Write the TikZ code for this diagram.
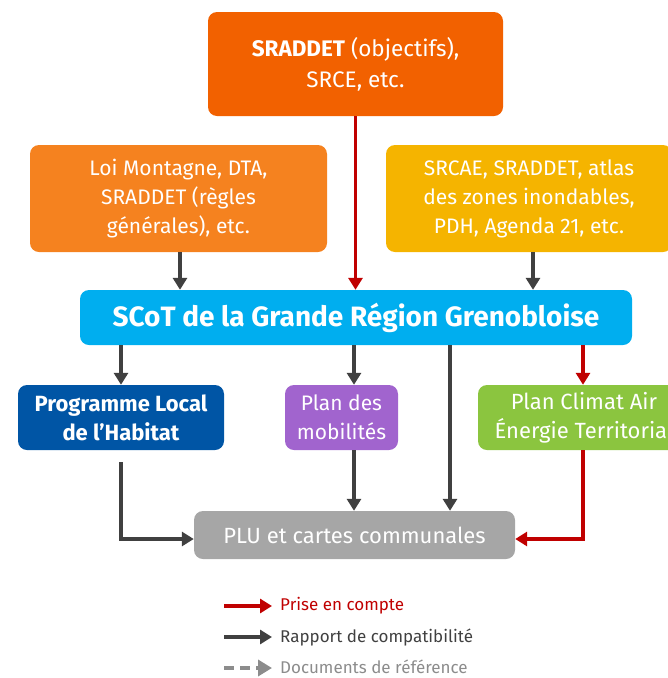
\documentclass[tikz,border=0pt]{standalone}
\usepackage{fontspec}
\setmainfont{Fira Sans}
\usetikzlibrary{arrows.meta}
\definecolor{cTop}{RGB}{242,97,0}
\definecolor{cLeft}{RGB}{245,130,31}
\definecolor{cRight}{RGB}{245,180,0}
\definecolor{cScot}{RGB}{0,174,239}
\definecolor{cPlh}{RGB}{0,85,165}
\definecolor{cMob}{RGB}{161,100,206}
\definecolor{cClim}{RGB}{139,197,63}
\definecolor{cPlu}{RGB}{166,166,166}
\definecolor{cRed}{RGB}{192,0,0}
\definecolor{cDark}{RGB}{64,64,64}
\definecolor{cGrey}{RGB}{140,140,140}
\begin{document}
\begin{tikzpicture}[x=1pt,y=-1pt,
  box/.style={rounded corners=9pt, text=white, align=center, inner sep=0pt, font=\fontsize{21}{29}\selectfont},
  redarr/.style={draw=cRed, line width=3.5pt, -{Triangle[length=12pt,width=14pt]}},
  darkarr/.style={draw=cDark, line width=3.5pt, -{Triangle[length=12pt,width=14pt]}},
  greyarr/.style={draw=cGrey, line width=3.5pt, dash pattern=on 10pt off 6pt, -{Triangle[length=14pt,width=16pt]}},
  legtext/.style={anchor=west, inner sep=0pt, font=\fontsize{17}{20}\selectfont}]
\useasboundingbox (0,0) rectangle (668,678);
\clip (0,0) rectangle (668,678);
\node[box, fill=cTop, minimum width=295pt, minimum height=104pt, font=\fontsize{22.5}{31}\selectfont] (top) at (355.5,64) {\textbf{SRADDET} (objectifs),\\SRCE, etc.};
\node[box, fill=cLeft, minimum width=297pt, minimum height=107pt] (left) at (178.5,198.5) {Loi Montagne, DTA,\\SRADDET (règles\\générales), etc.};
\node[box, fill=cRight, minimum width=286pt, minimum height=107pt] (right) at (529,198.5) {SRCAE, SRADDET, atlas\\des zones inondables,\\PDH, Agenda 21, etc.};
\node[box, fill=cScot, minimum width=552pt, minimum height=55pt, font=\fontsize{28}{32}\selectfont\bfseries] (scot) at (356,317.5) {SCoT de la Grande Région Grenobloise};
\node[box, fill=cPlh, minimum width=206pt, minimum height=65pt, font=\fontsize{22}{29}\selectfont\bfseries] (plh) at (121,417.5) {Programme Local\\de l’Habitat};
\node[box, fill=cMob, minimum width=113pt, minimum height=65pt] (mob) at (341.5,417.5) {Plan des\\mobilités};
\node[box, fill=cClim, minimum width=212pt, minimum height=65pt, font=\fontsize{22}{29}\selectfont] (clim) at (584,417.5) {Plan Climat Air\\Énergie Territorial};
\node[box, fill=cPlu, minimum width=321pt, minimum height=48pt, font=\fontsize{22}{26}\selectfont] (plu) at (354.5,535) {PLU et cartes communales};
% arrows into SCoT
\draw[redarr] (top.south) -- (top.south |- scot.north);
\draw[darkarr] ([xshift=1.5pt]left.south) -- ([xshift=1.5pt]left.south |- scot.north);
\draw[darkarr] ([xshift=4pt]right.south) -- ([xshift=4pt]right.south |- scot.north);
% arrows out of SCoT
\draw[darkarr] (plh.north |- scot.south) -- (plh.north);
\draw[darkarr] ([xshift=12.5pt]mob.north |- scot.south) -- ([xshift=12.5pt]mob.north);
\draw[darkarr] ([xshift=95.5pt]plu.north |- scot.south) -- ([xshift=95.5pt]plu.north);
\draw[redarr] ([xshift=-1pt]clim.north |- scot.south) -- ([xshift=-1pt]clim.north);
% arrows into PLU
\draw[darkarr] ([yshift=-12pt]plh.south) |- ([yshift=-4pt]plu.west);
\draw[darkarr] ([xshift=12.5pt]mob.south) -- ([xshift=12.5pt]mob.south |- plu.north);
\draw[redarr] ([xshift=-1pt]clim.south) |- ([yshift=-4pt]plu.east);
% legend
\coordinate (l1a) at (224,606); \coordinate (l1b) at (272,606);
\coordinate (l2a) at (224,637); \coordinate (l2b) at (272,637);
\coordinate (l3a) at (224,668); \coordinate (l3b) at (272,668);
\draw[redarr] (l1a) -- (l1b);
\draw[darkarr] (l2a) -- (l2b);
\draw[greyarr] (l3a) -- (l3b);
\node[legtext, text=cRed] (t1) at (280,606) {Prise en compte};
\node[legtext, text=cDark] (t2) at (280,637) {Rapport de compatibilité};
\node[legtext, text=cGrey] (t3) at (280,667) {Documents de référence};
\end{tikzpicture}
\end{document}
